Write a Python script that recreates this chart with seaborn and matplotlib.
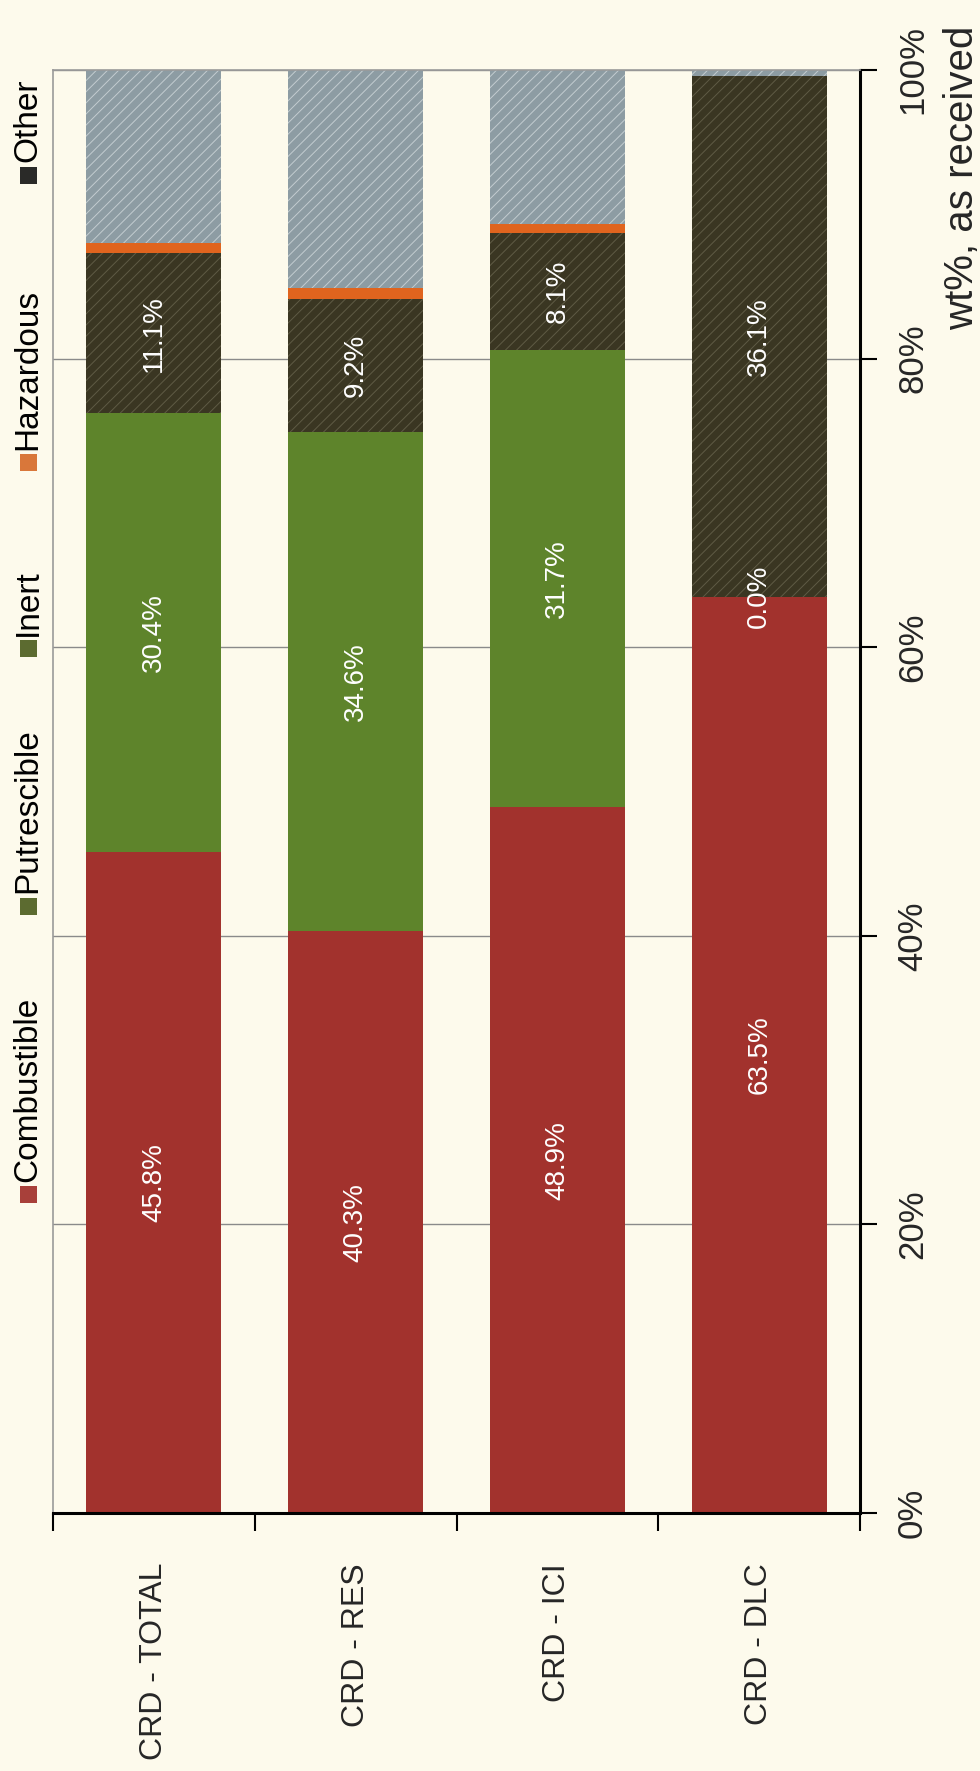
import numpy as np
import matplotlib
matplotlib.use("Agg")
import matplotlib.pyplot as plt
from matplotlib.patches import Rectangle
import seaborn as sns

# --- data -------------------------------------------------------------
categories = ["CRD - TOTAL", "CRD - RES", "CRD - ICI", "CRD - DLC"]
series = ["Combustible", "Putrescible", "Inert", "Hazardous", "Other"]
combustible = [45.8, 40.3, 48.9, 63.5]
putrescible = [30.4, 34.6, 31.7, 0.0]
inert = [11.1, 9.2, 8.1, 36.1]
hazardous = [0.7, 0.8, 0.6, 0.0]
other = [12.0, 15.1, 10.7, 0.4]
labelled_series = ["Combustible", "Putrescible", "Inert"]
value_ticks = [0, 20, 40, 60, 80, 100]
value_label = "wt%, as received"

# --- styling ----------------------------------------------------------
BG = "#fdfaec"
colors = {
    "Combustible": "#a2322d",
    "Putrescible": "#5e842b",
    "Inert": "#3a3622",
    "Hazardous": "#e0641e",
    "Other": "#8d9ca3",
}
hatch_colors = {
    "Combustible": None,
    "Putrescible": None,
    "Inert": "#5f5b45",
    "Hazardous": None,
    "Other": "#c3ccd0",
}
# swatch colours used in the legend key
legend_colors = {
    "Combustible": "#a8403a",
    "Putrescible": "#5c6b30",
    "Inert": "#5c6b30",
    "Hazardous": "#d9773a",
    "Other": "#2a2a28",
}

sns.set_style("white", {"axes.facecolor": BG, "figure.facecolor": BG})
plt.rcParams["font.family"] = ["Liberation Sans", "DejaVu Sans"]
plt.rcParams["hatch.linewidth"] = 0.7

W, H = 980, 1771
fig = plt.figure(figsize=(W / 100, H / 100), dpi=100, facecolor=BG)
ax_l, ax_r, ax_t, ax_b = 53, 860, 70, 1513
ax = fig.add_axes([ax_l / W, 1 - ax_b / H, (ax_r - ax_l) / W, (ax_b - ax_t) / H])
ax.set_facecolor(BG)

values = {
    "Combustible": combustible,
    "Putrescible": putrescible,
    "Inert": inert,
    "Hazardous": hazardous,
    "Other": other,
}

# stacked columns, one seaborn call per component
bottom = np.zeros(len(categories))
containers = {}
for name in series:
    vals = np.array(values[name], dtype=float)
    hc = hatch_colors[name]
    sns.barplot(
        x=categories, y=vals, order=categories, ax=ax,
        color=colors[name], saturation=1, width=0.67, errorbar=None,
        bottom=bottom,
        hatch="///" if hc else None,
        edgecolor=hc if hc else colors[name],
        linewidth=0, zorder=2,
    )
    containers[name] = ax.containers[-1]
    bottom = bottom + vals

# white value labels inside the labelled segments
for name in labelled_series:
    ax.bar_label(
        containers[name],
        labels=[f"{v:.1f}%" for v in values[name]],
        label_type="center", rotation=90, color="white", fontsize=20,
    )

# --- axes ---------------------------------------------------------------
ax.set_ylim(0, 100)
ax.set_xlim(-0.5, len(categories) - 0.5)
ax.set_axisbelow(True)
ax.yaxis.grid(True, color="#8a8a8a", linewidth=1)
ax.xaxis.grid(False)

# value axis on the right
ax.yaxis.tick_right()
ax.yaxis.set_label_position("right")
ax.set_yticks(value_ticks, labels=[f"{v}%" for v in value_ticks])
ax.tick_params(axis="y", which="major", right=True, left=False,
               labelright=True, labelleft=False, direction="out",
               length=12, width=1.5, color="black", pad=14,
               labelsize=25, labelrotation=90)
for t in ax.yaxis.get_major_ticks():
    t.label2.set_va("center")
    t.label2.set_ha("left")

ax.set_ylabel(value_label, fontsize=29, rotation=90)
ax.yaxis.label.set_rotation_mode("anchor")
ax.yaxis.label.set_ha("center")
ax.yaxis.label.set_va("center")
ax.yaxis.set_label_coords((962 - ax_l) / (ax_r - ax_l), (ax_b - 178) / (ax_b - ax_t))

# category axis: labels at centres, tick marks between categories
ax.set_xticks(range(len(categories)), labels=categories)
ax.set_xticks(np.arange(-0.5, len(categories), 1.0), minor=True)
ax.tick_params(axis="x", which="major", length=0, pad=36, labelsize=23,
               labelrotation=90)
ax.tick_params(axis="x", which="minor", bottom=True, direction="out",
               length=13, width=1.5, color="black")
ax.set_xlabel("")

for side in ["right", "bottom"]:
    ax.spines[side].set_color("black")
    ax.spines[side].set_linewidth(2.2)
    ax.spines[side].set_visible(True)
for side in ["left", "top"]:
    ax.spines[side].set_color("#9a9a9a")
    ax.spines[side].set_linewidth(1.2)
    ax.spines[side].set_visible(True)

# --- legend, running up the left edge -----------------------------------
legend_x = 28
legend_marker_y = {"Combustible": 1194, "Putrescible": 906, "Inert": 649,
                   "Hazardous": 463, "Other": 175}
msize = 17
for name in series:
    cy = legend_marker_y[name]
    fig.patches.append(Rectangle(
        ((legend_x - msize / 2) / W, 1 - (cy + msize / 2) / H),
        msize / W, msize / H, transform=fig.transFigure,
        facecolor=legend_colors[name], edgecolor=legend_colors[name],
        linewidth=0))
    fig.text(legend_x / W, 1 - (cy - msize / 2 - 4) / H, name,
             rotation=90, ha="center", va="bottom", fontsize=24,
             color="black")

fig.savefig("out.png", dpi=100, facecolor=BG)
